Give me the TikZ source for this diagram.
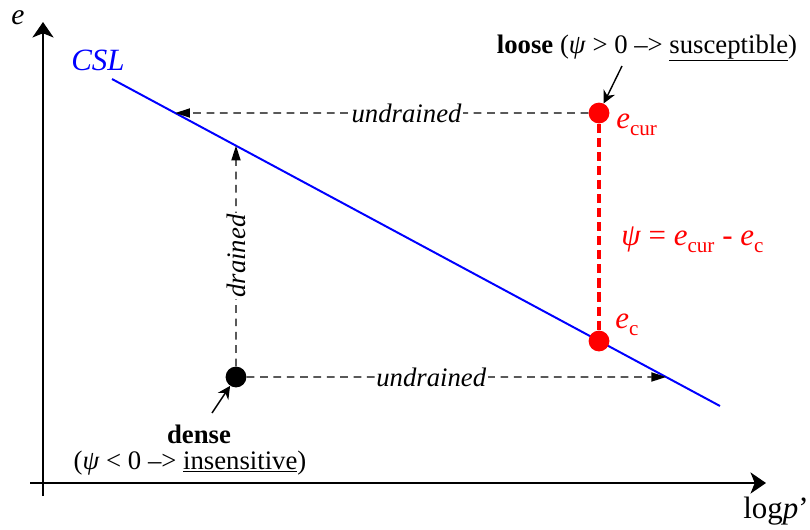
\documentclass[tikz,border=0pt]{standalone}
\usepackage{fontspec}
\setmainfont{Liberation Serif}
\usetikzlibrary{arrows.meta,positioning,calc}
\newcommand{\lowsub}[1]{\raisebox{-0.5ex}{\fontsize{15}{15}\selectfont #1}}

\begin{document}
\begin{tikzpicture}[x=0.025cm,y=-0.025cm,
  txt/.style={font=\fontsize{19}{22}\selectfont},
  bigtxt/.style={font=\fontsize{22}{26}\selectfont},
  statedot/.style={circle,minimum size=0.52cm,inner sep=0pt},
  dashpath/.style={line width=1pt,black,dash pattern=on 5.5pt off 4pt,-{Triangle[length=10.5pt,width=6.5pt]}},
  pathlabel/.style={txt,fill=white,inner sep=1pt,font=\fontsize{19}{22}\selectfont\itshape}]
  \useasboundingbox (0,0) rectangle (810,529);

  % axes
  \draw[line width=1.4pt,-{Stealth[length=11pt,width=15pt,inset=3pt]}] (43,496) -- (43,22) coordinate (ytop);
  \draw[line width=1.4pt,-{Stealth[length=11pt,width=15pt,inset=3pt]}] (30,483) -- (766,483) coordinate (xend);
  \node[anchor=base,inner sep=0pt,font=\fontsize{21}{25}\selectfont\itshape] (elab) at (18,24) {e};
  \node[bigtxt] (plab) at (776,511) {log\textit{p}’};

  % critical state line
  \coordinate (cslA) at (112,79);
  \coordinate (cslB) at (720,406);
  \draw[blue,line width=1.4pt] (cslA) -- (cslB);
  \node[blue,font=\fontsize{22}{26}\selectfont\itshape] (csl) at (98,60) {CSL};

  % states
  \node[statedot,fill=red] (loose) at (599,113) {};
  \node[statedot,fill=red] (crit) at (599,341) {};
  \node[statedot,fill=black] (dense) at (236,377) {};

  \coordinate (hitU) at ($(cslA)!{(113-79)/327}!(cslB)$);
  \coordinate (hitD) at ($(cslA)!{(236-112)/608}!(cslB)$);
  \coordinate (hitL) at ($(cslA)!{(377-79)/327}!(cslB)$);

  % paths
  \draw[dashpath] (loose) -- (hitU) node[pathlabel,pos=0.44] {undrained};
  \draw[dashpath] (dense) -- (hitD) node[pathlabel,midway,rotate=90] {drained};
  \draw[dashpath] (dense) -- (hitL) node[pathlabel,pos=0.44] {undrained};
  \draw[red,line width=2.8pt,dash pattern=on 6.5pt off 3.5pt] (loose) -- (crit);

  % labels
  \node[red,anchor=west,inner sep=0pt,font=\fontsize{22}{26}\selectfont] (ecur) at (616,125) {\textit{e}\lowsub{cur}};
  \node[red,anchor=west,inner sep=0pt,font=\fontsize{22}{26}\selectfont] (ec) at (615,325) {\textit{e}\lowsub{c}};
  \node[red,anchor=west,inner sep=0pt,font=\fontsize{22}{26}\selectfont] (psi) at (621,240) {\textit{ψ} = \textit{e}\lowsub{cur} - \textit{e}\lowsub{c}};

  \node[txt] (looselab) at (647,48) {\textbf{loose} (\textit{ψ} > 0 –> \underline{susceptible})};
  \node[txt] (denselab) at (199,434) {\textbf{dense}};
  \node[txt] (denseinfo) at (190,463) {(\textit{ψ} < 0 –> \underline{insensitive})};
  \draw[line width=1pt,-{Stealth[length=9pt,width=9pt]}] (622,66) -- (loose);
  \draw[line width=1pt,-{Stealth[length=9pt,width=9pt]}] (212,413) -- (dense);
\end{tikzpicture}
\end{document}
